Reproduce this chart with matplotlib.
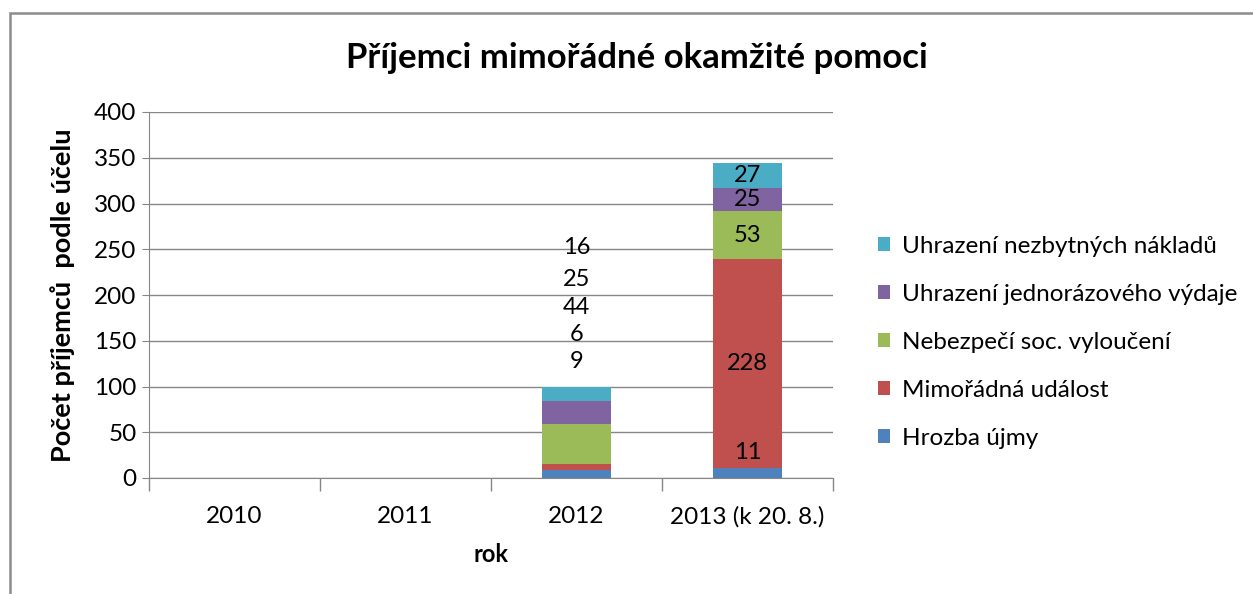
import numpy as np
import matplotlib.pyplot as plt
from matplotlib.patches import Rectangle

plt.rcParams['font.family'] = ['Lato', 'DejaVu Sans']

##------------------------------DATA-----------------------##
years = ['2010', '2011', '2012', '2013 (k 20. 8.)']
series = ['Hrozba újmy', 'Mimořádná událost', 'Nebezpečí soc. vyloučení',
          'Uhrazení jednorázového výdaje', 'Uhrazení nezbytných nákladů']
hrozba = [0, 0, 9, 11]
udalost = [0, 0, 6, 228]
vylouceni = [0, 0, 44, 53]
jednorazovy = [0, 0, 25, 25]
nezbytne = [0, 0, 16, 27]
colours = ['#4F81BD', '#C0504D', '#9BBB59', '#8064A2', '#4BACC6']

##------------------------------FIGURE-----------------------##
fig = plt.figure(figsize=(12.53, 5.94), dpi=100)
ax = fig.add_axes([149/1253, 1-478/594, (833-149)/1253, (478-112)/594])

# outer chart frame (only left/top visible)
fig.patches.append(Rectangle((10/1253, -0.1), 1.2, 1-13/594+0.1, transform=fig.transFigure,
                             fill=False, edgecolor='#8c8c8c', lw=1.8))

x = np.arange(len(years))
vals = [hrozba, udalost, vylouceni, jednorazovy, nezbytne]
bottom = np.zeros(len(years))
for v, c, lab in zip(vals, colours, series):
    ax.bar(x, v, 0.4, bottom=bottom, color=c, label=lab, zorder=3)
    bottom = bottom + np.array(v)

# data labels: 2013 centred in segments, 2012 drawn stacked above bar (as in original)
b13 = 0
for v in vals:
    val = v[3]
    yc = b13 + val/2
    if val < 20:
        yc = 28
    ax.text(3, yc, str(val), ha='center', va='center', fontsize=17, zorder=4)
    b13 += val
lab12_y = [127, 157, 186, 217, 252]
for v, yy in zip(vals, lab12_y):
    ax.text(2, yy, str(v[2]), ha='center', va='center', fontsize=17, zorder=4)

ax.set_xlim(-0.5, 3.5)
ax.set_ylim(0, 400)
ax.set_yticks(range(0, 401, 50))
ax.set_xticks(x)
ax.set_xticklabels(years)
ax.set_xticks(np.arange(-0.5, 3.6, 1), minor=True)
ax.tick_params(axis='x', which='major', length=0, pad=20, labelsize=17.5)
ax.tick_params(axis='x', which='minor', length=9, color='#868686', width=1)
ax.tick_params(axis='y', length=5, color='#868686', labelsize=17.5, pad=4)
ax.grid(axis='y', color='#868686', lw=1, zorder=0)
for s in ['top', 'right']:
    ax.spines[s].set_visible(False)
for s in ['left', 'bottom']:
    ax.spines[s].set_color('#868686')

ax.set_ylabel('Počet příjemců  podle účelu', fontsize=19.5, fontweight='bold')
ax.yaxis.set_label_coords((75-149)/(833-149), 0.5)
ax.set_xlabel('rok', fontsize=17, fontweight='bold')
ax.xaxis.set_label_coords(0.5, -(543-478)/(478-112))
fig.text(637/1253, 1-58/594, 'Příjemci mimořádné okamžité pomoci', ha='center', va='center',
         fontsize=25, fontweight='bold')

h, l = ax.get_legend_handles_labels()
fig.legend(h[::-1], l[::-1], loc='upper left', bbox_to_anchor=(868/1253, 1-226/594),
           frameon=False, fontsize=17.5, handlelength=0.5, handleheight=0.5,
           handletextpad=0.5, labelspacing=1.11, borderaxespad=0)

fig.savefig('out.png', dpi=100)
